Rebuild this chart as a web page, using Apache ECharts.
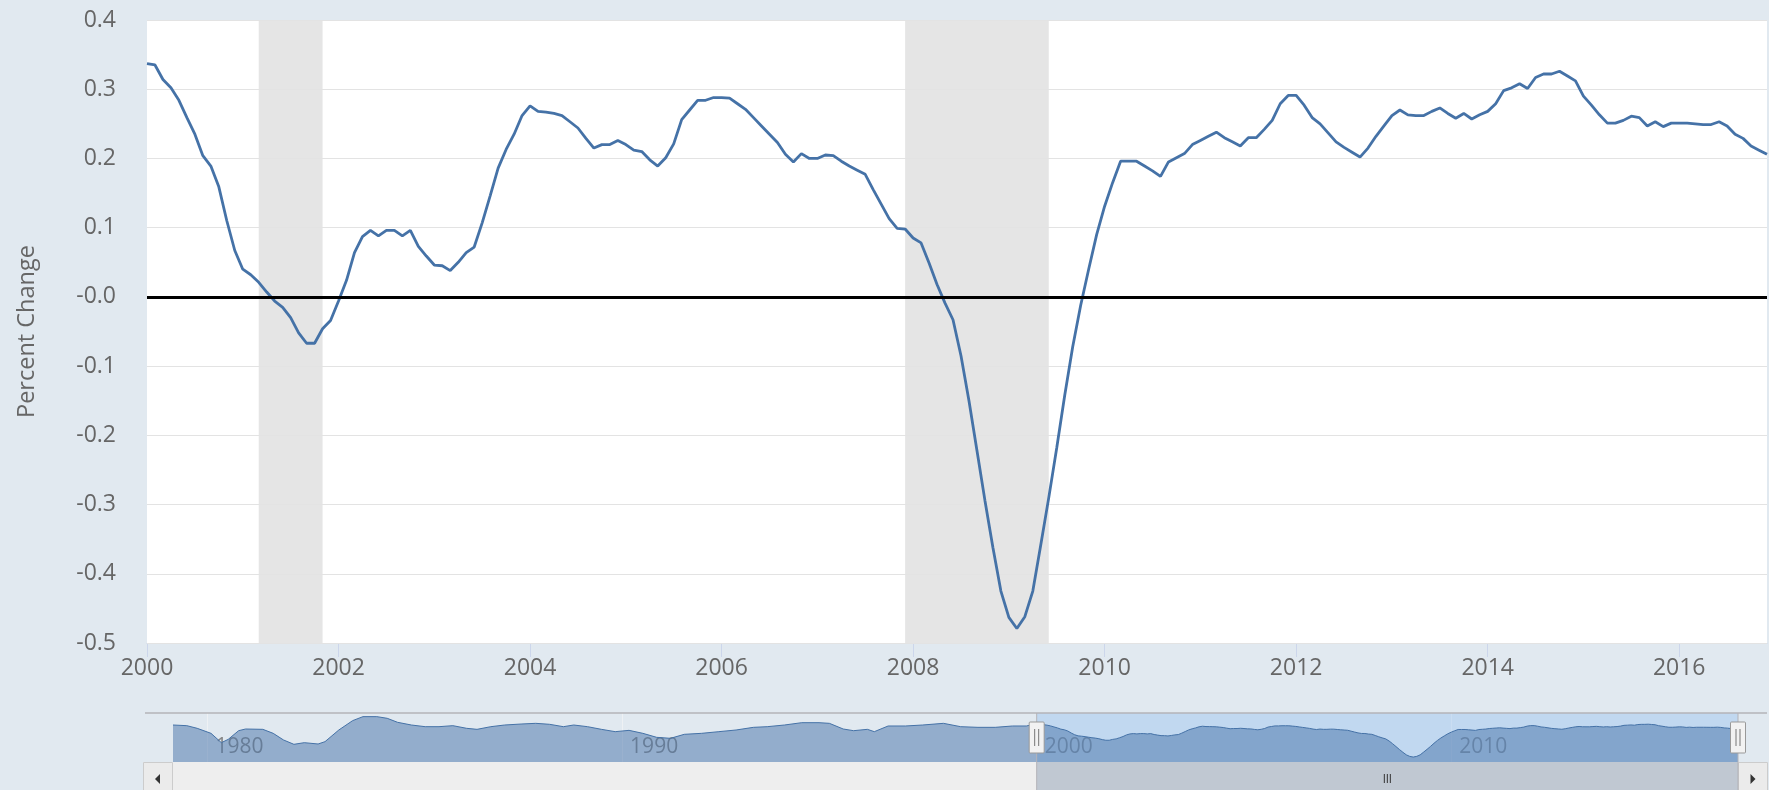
<!DOCTYPE html>
<html><head><meta charset="utf-8">
<script src="https://cdn.jsdelivr.net/npm/echarts@6/dist/echarts.min.js"></script>
<style>html,body{margin:0;padding:0;background:#e1e9f0;}#chart{width:1769px;height:790px;}</style>
</head><body><div id="chart"></div>
<script>
// ---- data ----
const mainStartMonth = '2000-01';
const mainValues = [
  0.337, 0.335, 0.314, 0.302, 0.284, 0.259, 0.235, 0.204, 0.189, 0.159, 0.110, 0.067,
  0.040, 0.032, 0.021, 0.007, -0.006, -0.015, -0.030, -0.052, -0.067, -0.067, -0.046, -0.034,
  -0.006, 0.024, 0.064, 0.087, 0.096, 0.088, 0.096, 0.096, 0.088, 0.096, 0.073, 0.059,
  0.046, 0.045, 0.038, 0.050, 0.064, 0.072, 0.107, 0.146, 0.186, 0.213, 0.235, 0.262,
  0.276, 0.268, 0.267, 0.265, 0.262, 0.253, 0.244, 0.229, 0.215, 0.220, 0.220, 0.226,
  0.220, 0.212, 0.210, 0.198, 0.189, 0.201, 0.221, 0.256, 0.270, 0.284, 0.284, 0.288,
  0.288, 0.287, 0.279, 0.271, 0.259, 0.247, 0.235, 0.223, 0.206, 0.195, 0.207, 0.200,
  0.200, 0.205, 0.204, 0.196, 0.189, 0.183, 0.177, 0.155, 0.134, 0.113, 0.099, 0.098,
  0.085, 0.078, 0.049, 0.018, -0.009, -0.033, -0.085, -0.150, -0.222, -0.294, -0.362, -0.425,
  -0.463, -0.479, -0.462, -0.425, -0.358, -0.290, -0.218, -0.142, -0.072, -0.012, 0.040, 0.090,
  0.131, 0.165, 0.196, 0.196, 0.196, 0.189, 0.182, 0.174, 0.195, 0.201, 0.207, 0.220,
  0.226, 0.232, 0.238, 0.230, 0.224, 0.218, 0.230, 0.230, 0.242, 0.255, 0.279, 0.291,
  0.291, 0.277, 0.259, 0.250, 0.237, 0.224, 0.216, 0.209, 0.202, 0.215, 0.232, 0.247,
  0.262, 0.270, 0.263, 0.262, 0.262, 0.268, 0.273, 0.265, 0.258, 0.265, 0.257, 0.263,
  0.268, 0.279, 0.298, 0.302, 0.308, 0.301, 0.317, 0.322, 0.322, 0.326, 0.319, 0.312,
  0.290, 0.277, 0.263, 0.251, 0.251, 0.255, 0.261, 0.259, 0.247, 0.253, 0.246, 0.251,
  0.251, 0.251, 0.250, 0.249, 0.249, 0.253, 0.247, 0.235, 0.229, 0.218, 0.212, 0.206
];
// earlier history, only visible in the navigator
const navMonths = [
  '1979-03','1979-07','1979-10','1980-02','1980-05','1980-07','1980-10','1980-12',
  '1981-05','1981-08','1981-11','1982-02','1982-05','1982-09','1982-11','1983-03',
  '1983-07','1983-10','1984-02','1984-05','1984-08','1984-12','1985-04','1985-08',
  '1985-12','1986-04','1986-07','1986-11','1987-03','1987-08','1987-12','1988-04',
  '1988-08','1988-11','1989-03','1989-07','1989-11','1990-03','1990-07','1990-11',
  '1991-03','1991-07','1991-12','1992-05','1992-10','1993-03','1993-07','1993-12',
  '1994-05','1994-10','1995-01','1995-05','1995-08','1995-12','1996-02','1996-06',
  '1996-11','1997-04','1997-10','1998-03','1998-08','1999-01','1999-06','1999-10'
];
const navValues = [
  0.306, 0.290, 0.225, 0.102, -0.127, -0.045, 0.167, 0.208,
  0.200, 0.102, -0.061, -0.167, -0.127, -0.159, -0.102, 0.184,
  0.413, 0.511, 0.511, 0.470, 0.372, 0.306, 0.265, 0.265,
  0.290, 0.225, 0.200, 0.265, 0.306, 0.331, 0.347, 0.323,
  0.265, 0.306, 0.265, 0.200, 0.143, 0.175, 0.102, 0.004,
  -0.020, 0.078, 0.102, 0.143, 0.184, 0.249, 0.265, 0.306,
  0.363, 0.363, 0.347, 0.208, 0.167, 0.200, 0.143, 0.282,
  0.282, 0.306, 0.347, 0.265, 0.249, 0.249, 0.282, 0.282
];
const recessions = [['2001-03', '2001-11'], ['2007-12', '2009-06']];
const xTickYears = [2000, 2002, 2004, 2006, 2008, 2010, 2012, 2014, 2016];
const navTickYears = [1980, 1990, 2000, 2010];
const yAxisTitle = 'Percent Change';

// ---- build ----
function toYear(s) { const p = s.split('-'); return +p[0] + (+p[1] - 1) / 12; }
const start = toYear(mainStartMonth);
const mainData = mainValues.map((v, i) => [start + i / 12, v]);
const mainEnd = mainData[mainData.length - 1][0];
const navData = navMonths.map((m, i) => [toYear(m), navValues[i]]).concat(mainData);
const navStart = navData[0][0];

const chart = echarts.init(document.getElementById('chart'), null, { renderer: 'canvas' });
const FONT = 'Open Sans';
chart.setOption({
  animation: false,
  backgroundColor: '#e1e9f0',
  textStyle: { fontFamily: FONT },
  grid: [
    { left: 147, top: 20, width: 1620, height: 623, show: true, backgroundColor: '#ffffff', borderWidth: 0, outerBoundsMode: 'none', containLabel: false },
    { left: 173, top: 713, width: 1565, height: 49, show: false, outerBoundsMode: 'none', containLabel: false }
  ],
  xAxis: [
    {
      type: 'value', gridIndex: 0, min: start, max: mainEnd,
      axisLine: { show: true, onZero: false, lineStyle: { color: '#ccd6eb', width: 1 } },
      axisTick: { show: true, length: 14, lineStyle: { color: '#ccd6eb' }, customValues: xTickYears },
      axisLabel: { show: true, customValues: xTickYears, color: '#666', fontSize: 23, fontFamily: FONT, margin: 14,
        formatter: v => String(Math.round(v)) },
      splitLine: { show: false }
    },
    {
      type: 'value', gridIndex: 1, min: navStart, max: mainEnd,
      axisLine: { show: false, onZero: false },
      axisTick: { show: false, customValues: navTickYears },
      axisLabel: { show: true, inside: true, customValues: navTickYears, align: 'left', padding: [0, 0, 0, 8],
        color: '#888888', fontSize: 21, fontFamily: FONT, margin: 4, formatter: v => String(Math.round(v)) },
      splitLine: { show: true, lineStyle: { color: '#eef1f4', width: 1 } }
    }
  ],
  yAxis: [
    {
      type: 'value', gridIndex: 0, min: -0.5, max: 0.4, interval: 0.1, z: 2,
      name: yAxisTitle, nameLocation: 'middle', nameRotate: 90, nameGap: 108,
      nameTextStyle: { color: '#666', fontSize: 23.5, fontFamily: FONT },
      axisLine: { show: false }, axisTick: { show: false },
      axisLabel: { color: '#666', fontSize: 23, fontFamily: FONT, margin: 31, padding: [4, 0, 0, 0],
        formatter: v => (Math.abs(v) < 1e-9 ? '-0.0' : v.toFixed(1)) },
      splitLine: { show: true, lineStyle: { color: '#e3e3e3', width: 1.2 } }
    },
    { type: 'value', gridIndex: 1, min: -0.6, max: 0.6, show: false, splitLine: { show: false } }
  ],
  series: [
    {
      name: 'recessions', type: 'line', xAxisIndex: 0, yAxisIndex: 0, data: [], z: 1, silent: true,
      markArea: {
        silent: true,
        itemStyle: { color: '#e5e5e5', opacity: 1 },
        data: recessions.map(r => [{ xAxis: toYear(r[0]) }, { xAxis: toYear(r[1]) }])
      }
    },
    {
      name: 'Percent Change', type: 'line', xAxisIndex: 0, yAxisIndex: 0, z: 3,
      data: mainData, showSymbol: false, symbol: 'none',
      lineStyle: { color: '#4572a7', width: 2.8 },
      markLine: {
        silent: true, symbol: ['none', 'none'], label: { show: false },
        lineStyle: { color: '#000', width: 3, type: 'solid', opacity: 1 },
        data: [{ yAxis: 0 }]
      }
    },
    {
      name: 'navigator', type: 'line', xAxisIndex: 1, yAxisIndex: 1, z: 3,
      data: navData, showSymbol: false, symbol: 'none',
      lineStyle: { color: '#4572a7', width: 1 },
      areaStyle: { color: 'rgba(69,114,167,0.5)', opacity: 1, origin: 'start' },
      markArea: {
        silent: true,
        itemStyle: { color: 'rgba(128,180,240,0.32)', opacity: 1 },
        data: [[{ xAxis: start }, { xAxis: mainEnd }]]
      }
    }
  ]
});

// navigator chrome (handles, outline, scrollbar) placed from the navigator axis
const xa = chart.convertToPixel({ xAxisIndex: 1 }, start);
const xb = chart.convertToPixel({ xAxisIndex: 1 }, mainEnd);
const L = 143, R = 1767, sbY = 762, sbH = 30, navTop = 713;
function handle(x) {
  return [
    { type: 'rect', shape: { x: x - 7.5, y: 722, width: 15, height: 31, r: 1 }, style: { fill: '#f2f2f2', stroke: '#999', lineWidth: 1 }, z: 20 },
    { type: 'line', shape: { x1: x - 2, y1: 729, x2: x - 2, y2: 746 }, style: { stroke: '#777', lineWidth: 1 }, z: 21 },
    { type: 'line', shape: { x1: x + 2, y1: 729, x2: x + 2, y2: 746 }, style: { stroke: '#777', lineWidth: 1 }, z: 21 }
  ];
}
const cx = (xa + xb) / 2;
const gr = [
  { type: 'rect', shape: { x: L, y: sbY, width: R - L, height: sbH }, style: { fill: '#eeeeee' }, z: 10 },
  { type: 'rect', shape: { x: xa, y: sbY, width: xb - xa, height: sbH }, style: { fill: '#c0c8d2' }, z: 11 },
  { type: 'rect', shape: { x: L + 0.5, y: sbY + 0.5, width: 29, height: sbH }, style: { fill: '#ebebeb', stroke: '#cccccc', lineWidth: 1 }, z: 12 },
  { type: 'polygon', shape: { points: [[160, 774], [160, 784], [155, 779]] }, style: { fill: '#333' }, z: 13 },
  { type: 'rect', shape: { x: xb + 0.5, y: sbY + 0.5, width: R - xb, height: sbH }, style: { fill: '#ebebeb', stroke: '#cccccc', lineWidth: 1 }, z: 12 },
  { type: 'polygon', shape: { points: [[(xb + R) / 2 - 2, 774], [(xb + R) / 2 - 2, 784], [(xb + R) / 2 + 3, 779]] }, style: { fill: '#333' }, z: 13 },
  { type: 'line', shape: { x1: cx - 3, y1: 774, x2: cx - 3, y2: 783 }, style: { stroke: '#333', lineWidth: 1 }, z: 13 },
  { type: 'line', shape: { x1: cx, y1: 774, x2: cx, y2: 783 }, style: { stroke: '#333', lineWidth: 1 }, z: 13 },
  { type: 'line', shape: { x1: cx + 3, y1: 774, x2: cx + 3, y2: 783 }, style: { stroke: '#333', lineWidth: 1 }, z: 13 },
  { type: 'line', shape: { x1: 145, y1: navTop, x2: R, y2: navTop }, style: { stroke: '#b3b3b8', lineWidth: 1.5 }, z: 14 },
  { type: 'line', shape: { x1: xa, y1: navTop, x2: xa, y2: 790 }, style: { stroke: '#b3b3b8', lineWidth: 1 }, z: 14 },
  { type: 'line', shape: { x1: xb, y1: navTop, x2: xb, y2: 790 }, style: { stroke: '#b3b3b8', lineWidth: 1 }, z: 14 }
].concat(handle(xa), handle(xb));
chart.setOption({ graphic: gr });
</script>
</body></html>
